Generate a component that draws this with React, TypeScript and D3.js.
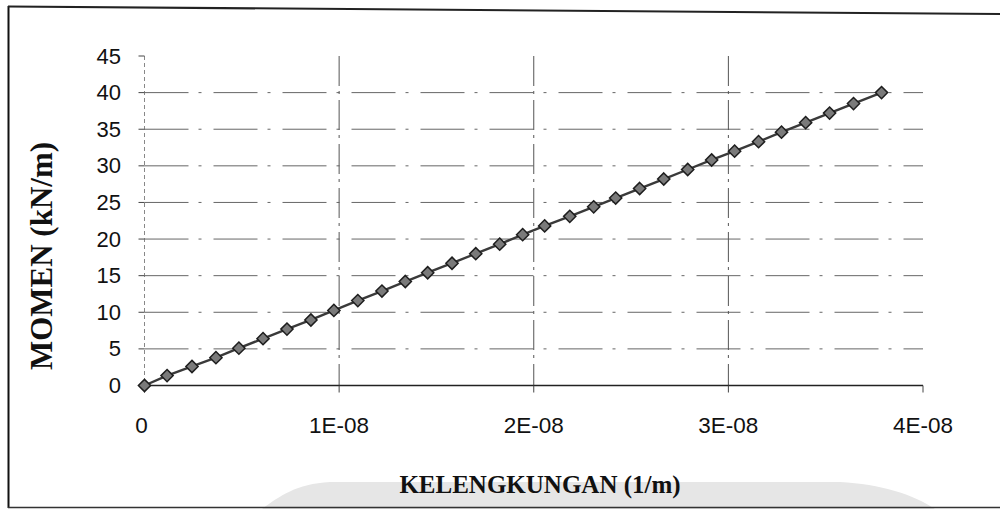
import React from "react";
import * as d3 from "d3";

// Moment–curvature readings (curvature in 1/m, moment in kN/m)
const curvature: number[] = [
  0, 1.16e-9, 2.44e-9, 3.67e-9, 4.85e-9, 6.09e-9, 7.32e-9, 8.55e-9, 9.73e-9,
  10.96e-9, 12.2e-9, 13.4e-9, 14.55e-9, 15.8e-9, 17.02e-9, 18.25e-9, 19.43e-9,
  20.56e-9, 21.85e-9, 23.08e-9, 24.21e-9, 25.44e-9, 26.68e-9, 27.91e-9,
  29.14e-9, 30.32e-9, 31.55e-9, 32.73e-9, 33.97e-9, 35.2e-9, 36.43e-9, 37.87e-9,
];
const moment: number[] = [
  0, 1.35, 2.6, 3.8, 5.1, 6.4, 7.7, 8.95, 10.25, 11.6, 12.9, 14.2, 15.4, 16.7,
  18.0, 19.3, 20.6, 21.8, 23.1, 24.4, 25.6, 26.9, 28.2, 29.5, 30.8, 32.0, 33.3,
  34.6, 35.9, 37.2, 38.5, 40.0,
];

const xTicks: number[] = [0, 1e-8, 2e-8, 3e-8, 4e-8];
const xTickLabels: string[] = ["0", "1E-08", "2E-08", "3E-08", "4E-08"];
const yTicks: number[] = [0, 5, 10, 15, 20, 25, 30, 35, 40, 45];

const xTitle = "KELENGKUNGAN (1/m)";
const yTitle = "MOMEN (kN/m)";

const W = 1000;
const H = 509;
const plot = { left: 144.5, right: 923, top: 56, bottom: 385.5 };

export default function App() {
  const x = d3.scaleLinear().domain([0, 4e-8]).range([plot.left, plot.right]);
  const y = d3.scaleLinear().domain([0, 45]).range([plot.bottom, plot.top]);

  const points = curvature.map((c, i) => ({ c, m: moment[i] }));
  const line = d3
    .line<{ c: number; m: number }>()
    .x((d) => x(d.c))
    .y((d) => y(d.m));

  const diamond = d3.symbol().type(d3.symbolDiamond2).size(95)() as string;

  const tickFont = "'Liberation Sans', Arial, sans-serif";
  const titleFont = "'Liberation Serif', 'Times New Roman', serif";

  return (
    <svg
      width={W}
      height={H}
      style={{ position: "absolute", left: 0, top: 0, background: "#fff" }}
    >
      <rect x={0} y={0} width={W} height={H} fill="#fff" />

      {/* light grey band near the bottom edge */}
      <path
        d="M 262 509 C 280 496, 296 484, 330 482 L 840 482 C 880 484, 915 495, 935 509 Z"
        fill="#e6e6e6"
      />

      {/* chart frame */}
      <line x1={8.5} y1={6} x2={8.5} y2={508} stroke="#111" strokeWidth={2} />
      <line x1={8} y1={6.5} x2={1000} y2={14} stroke="#222" strokeWidth={2} />
      <line x1={8} y1={507.5} x2={1000} y2={507.5} stroke="#333" strokeWidth={1.5} />

      {/* horizontal gridlines */}
      {yTicks
        .filter((t) => t > 0 && t < 45)
        .map((t) => (
          <line
            key={`hg${t}`}
            x1={plot.left}
            x2={plot.right}
            y1={y(t)}
            y2={y(t)}
            stroke="#666"
            strokeWidth={1}
            strokeDasharray="44 10 3 12"
          />
        ))}

      {/* vertical gridlines */}
      {xTicks
        .filter((t) => t > 0 && t < 4e-8)
        .map((t) => (
          <line
            key={`vg${t}`}
            x1={x(t)}
            x2={x(t)}
            y1={plot.top}
            y2={plot.bottom}
            stroke="#555"
            strokeWidth={1}
            strokeDasharray="30 5 3 6"
          />
        ))}

      {/* y axis */}
      <line
        x1={plot.left}
        x2={plot.left}
        y1={plot.top}
        y2={plot.bottom}
        stroke="#888"
        strokeWidth={1}
        strokeDasharray="4 3"
      />
      {yTicks.map((t) => (
        <g key={`yt${t}`}>
          <line x1={plot.left - 6} x2={plot.left} y1={y(t)} y2={y(t)} stroke="#444" />
          <text
            x={121}
            y={y(t)}
            textAnchor="end"
            dominantBaseline="central"
            fontFamily={tickFont}
            fontSize={22}
            fill="#111"
          >
            {t}
          </text>
        </g>
      ))}

      {/* x axis */}
      <line
        x1={plot.left}
        x2={plot.right}
        y1={plot.bottom}
        y2={plot.bottom}
        stroke="#222"
        strokeWidth={1.6}
      />
      {xTicks.map((t, i) => (
        <g key={`xt${i}`}>
          <line x1={x(t)} x2={x(t)} y1={plot.bottom} y2={plot.bottom + 7} stroke="#444" />
          <text
            x={x(t) - (i === 0 ? 3 : 0)}
            y={425}
            textAnchor="middle"
            dominantBaseline="central"
            fontFamily={tickFont}
            fontSize={22.5}
            fill="#111"
          >
            {xTickLabels[i]}
          </text>
        </g>
      ))}

      {/* series */}
      <path d={line(points) ?? ""} fill="none" stroke="#3a3a3a" strokeWidth={2.4} />
      {points.map((p, i) => (
        <path
          key={`pt${i}`}
          d={diamond}
          transform={`translate(${x(p.c)},${y(p.m)})`}
          fill="#7a7a7a"
          stroke="#1e1e1e"
          strokeWidth={1.5}
        />
      ))}

      {/* axis titles */}
      <text
        x={540}
        y={493}
        textAnchor="middle"
        fontFamily={titleFont}
        fontWeight="bold"
        fontSize={25}
        fill="#111"
      >
        {xTitle}
      </text>
      <text
        transform={`translate(52,256) rotate(-90)`}
        textAnchor="middle"
        fontFamily={titleFont}
        fontWeight="bold"
        fontSize={31}
        fill="#111"
      >
        {yTitle}
      </text>
    </svg>
  );
}
